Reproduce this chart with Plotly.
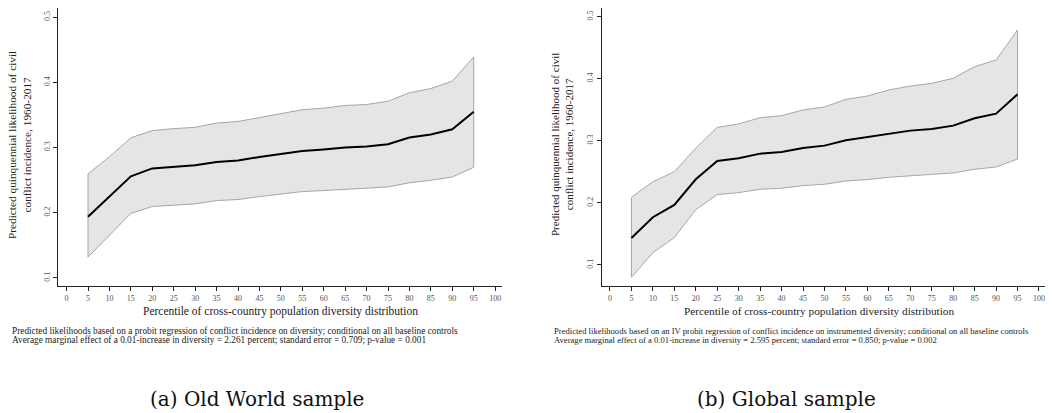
import plotly.graph_objects as go

W, H = 1052, 413

percentiles = [5, 10, 15, 20, 25, 30, 35, 40, 45, 50, 55, 60, 65, 70, 75, 80, 85, 90, 95]

old_mean = [0.194, 0.225, 0.256, 0.268, 0.270, 0.273, 0.278, 0.280, 0.2855, 0.290, 0.2946,
            0.297, 0.300, 0.3018, 0.305, 0.3155, 0.320, 0.328, 0.355]
old_upper = [0.2595, 0.286, 0.315, 0.326, 0.329, 0.331, 0.3375, 0.340, 0.346, 0.3517, 0.358,
             0.3604, 0.3645, 0.366, 0.371, 0.384, 0.3905, 0.4017, 0.439]
old_lower = [0.132, 0.166, 0.199, 0.2096, 0.2116, 0.2136, 0.2187, 0.2203, 0.2248, 0.229, 0.2325,
             0.234, 0.236, 0.237, 0.2396, 0.246, 0.2498, 0.2549, 0.2697]

glob_mean = [0.1435, 0.1768, 0.1966, 0.238, 0.2675, 0.2718, 0.2793, 0.282, 0.2885, 0.2922, 0.3008,
             0.3056, 0.3115, 0.3164, 0.319, 0.3244, 0.3362, 0.3438, 0.3749]
glob_upper = [0.209, 0.234, 0.2503, 0.288, 0.3217, 0.3271, 0.3373, 0.3405, 0.3497, 0.3545, 0.3668,
              0.3722, 0.3819, 0.3883, 0.3926, 0.4007, 0.4195, 0.4302, 0.4785]
glob_lower = [0.0801, 0.1198, 0.144, 0.1891, 0.2133, 0.2165, 0.2219, 0.2235, 0.2278, 0.2299, 0.2353,
              0.2374, 0.2412, 0.2439, 0.2455, 0.2482, 0.2541, 0.2578, 0.2707]

x_ticks = list(range(0, 101, 5))
y_ticks = [0.1, 0.2, 0.3, 0.4, 0.5]

y_title = "Predicted quinquennial likelihood of civil<br>conflict incidence, 1960-2017"
x_title = "Percentile of cross-country population diversity distribution"
notes_a = ["Predicted likelihoods based on a probit regression of conflict incidence on diversity; conditional on all baseline controls",
           "Average marginal effect of a 0.01-increase in diversity = 2.261 percent; standard error = 0.709; p-value = 0.001"]
notes_b = ["Predicted likelihoods based on an IV probit regression of conflict incidence on instrumented diversity; conditional on all baseline controls",
           "Average marginal effect of a 0.01-increase in diversity = 2.595 percent; standard error = 0.850; p-value = 0.002"]
captions = ["(a) Old World sample", "(b) Global sample"]

FONT = "Liberation Serif"
CAPFONT = "DejaVu Serif"
FILL = "#e5e5e5"
BAND = "#a6a6a6"


def px(x):
    return x / W


def py(y):
    return 1 - y / H


fig = go.Figure()

panels = [
    dict(mean=old_mean, upper=old_upper, lower=old_lower, xa="x", ya="y"),
    dict(mean=glob_mean, upper=glob_upper, lower=glob_lower, xa="x2", ya="y2"),
]

for p in panels:
    fig.add_trace(go.Scatter(x=percentiles, y=p["upper"], mode="lines",
                             line=dict(color=BAND, width=1), xaxis=p["xa"], yaxis=p["ya"],
                             showlegend=False, hoverinfo="skip"))
    fig.add_trace(go.Scatter(x=percentiles, y=p["lower"], mode="lines",
                             line=dict(color=BAND, width=1), fill="tonexty", fillcolor=FILL,
                             xaxis=p["xa"], yaxis=p["ya"], showlegend=False, hoverinfo="skip"))
    # vertical edges of the band
    fig.add_trace(go.Scatter(x=[percentiles[0], percentiles[0], None, percentiles[-1], percentiles[-1]],
                             y=[p["lower"][0], p["upper"][0], None, p["lower"][-1], p["upper"][-1]],
                             mode="lines", line=dict(color=BAND, width=1),
                             xaxis=p["xa"], yaxis=p["ya"], showlegend=False, hoverinfo="skip"))
    fig.add_trace(go.Scatter(x=percentiles, y=p["mean"], mode="lines",
                             line=dict(color="black", width=2), xaxis=p["xa"], yaxis=p["ya"],
                             showlegend=False))

axis_common = dict(showline=True, linecolor="#222", linewidth=1.2, ticks="outside", ticklen=4,
                   tickcolor="#222", tickwidth=1, showgrid=False, zeroline=False, automargin=False,
                   tickfont=dict(family=FONT, size=8, color="#555"))

# left panel: plot area x 58..502, y 8..286
fig.update_layout(
    xaxis=dict(domain=[px(58), px(502)], range=[-2.0, 101.6], tickvals=x_ticks, anchor="y", **axis_common),
    yaxis=dict(domain=[py(286), py(8)], range=[0.0877, 0.514], tickvals=y_ticks, tickangle=-90,
               tickformat=".1f", anchor="x", **axis_common),
    xaxis2=dict(domain=[px(601.7), px(1045)], range=[-1.93, 101.4], tickvals=x_ticks, anchor="y2", **axis_common),
    yaxis2=dict(domain=[py(286), py(8)], range=[0.066, 0.514], tickvals=y_ticks, tickangle=-90,
                tickformat=".1f", anchor="x2", **axis_common),
)

ann = []
for cx, fs in [(19, 11.3), (562, 11.0)]:
    ann.append(dict(x=px(cx), y=py(145), xref="paper", yref="paper", text=y_title, textangle=-90,
                    showarrow=False, font=dict(family=FONT, size=fs, color="#222"), align="center",
                    xanchor="center", yanchor="middle"))
for cx, fs in [(280, 11.5), (819, 11.3)]:
    ann.append(dict(x=px(cx), y=py(311), xref="paper", yref="paper", text=x_title, showarrow=False,
                    font=dict(family=FONT, size=fs, color="#222"), xanchor="center", yanchor="middle"))
for i, line in enumerate(notes_a):
    ann.append(dict(x=px(10), y=py(331 + 9 * i), xref="paper", yref="paper", text=line, showarrow=False,
                    font=dict(family=FONT, size=9.3, color="#222"), xanchor="left", yanchor="middle"))
for i, line in enumerate(notes_b):
    ann.append(dict(x=px(552), y=py(331 + 9 * i), xref="paper", yref="paper", text=line, showarrow=False,
                    font=dict(family=FONT, size=8.6, color="#222"), xanchor="left", yanchor="middle"))
ann.append(dict(x=px(257), y=py(399), xref="paper", yref="paper", text=captions[0], showarrow=False,
                font=dict(family=CAPFONT, size=20, color="#111"), xanchor="center", yanchor="middle"))
ann.append(dict(x=px(786), y=py(399), xref="paper", yref="paper", text=captions[1], showarrow=False,
                font=dict(family=CAPFONT, size=20, color="#111"), xanchor="center", yanchor="middle"))

fig.update_layout(width=W, height=H, margin=dict(l=0, r=0, t=0, b=0), paper_bgcolor="white",
                  plot_bgcolor="white", annotations=ann, showlegend=False)

fig.write_html("out.html", config={"displayModeBar": False},
               post_script="document.body.style.margin='0';")
